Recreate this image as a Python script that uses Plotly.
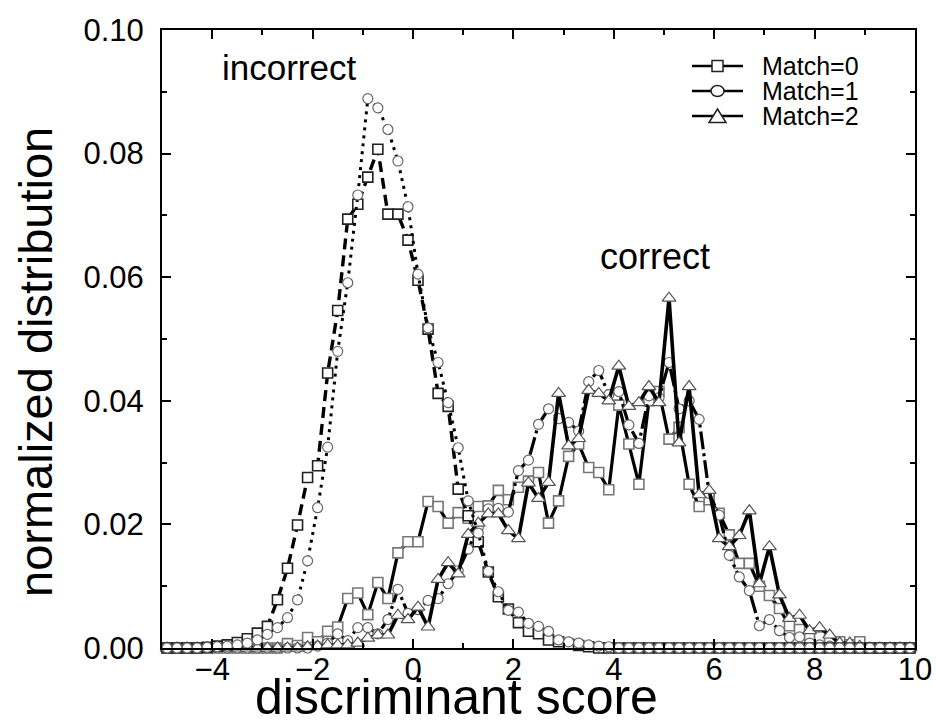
import plotly.graph_objects as go

# bin centres of the discriminant score
score = [-4.9, -4.7, -4.5, -4.3, -4.1, -3.9, -3.7, -3.5, -3.3, -3.1,
         -2.9, -2.7, -2.5, -2.3, -2.1, -1.9, -1.7, -1.5, -1.3, -1.1,
         -0.9, -0.7, -0.5, -0.3, -0.1, 0.1, 0.3, 0.5, 0.7, 0.9,
         1.1, 1.3, 1.5, 1.7, 1.9, 2.1, 2.3, 2.5, 2.7, 2.9,
         3.1, 3.3, 3.5, 3.7, 3.9, 4.1, 4.3, 4.5, 4.7, 4.9,
         5.1, 5.3, 5.5, 5.7, 5.9, 6.1, 6.3, 6.5, 6.7, 6.9,
         7.1, 7.3, 7.5, 7.7, 7.9, 8.1, 8.3, 8.5, 8.7, 8.9,
         9.1, 9.3, 9.5, 9.7, 9.9]

incorrect_m0 = [0, 0, 0, 0, 0.0001, 0.0003, 0.0005, 0.0009, 0.0015, 0.0024,
                0.0035, 0.0078, 0.0129, 0.0199, 0.0276, 0.0295, 0.0445, 0.0546, 0.0694, 0.0718,
                0.0762, 0.0807, 0.0702, 0.0702, 0.0660, 0.0595, 0.0516, 0.0412, 0.0391, 0.0257,
                0.0214, 0.0172, 0.0123, 0.0083, 0.0063, 0.0041, 0.0027, 0.0023, 0.0013, 0.0010,
                0.0006, 0.0004, 0.0002, 0, 0, 0, 0, 0, 0, 0,
                0, 0, 0, 0, 0, 0, 0, 0, 0, 0,
                0, 0, 0, 0, 0, 0, 0, 0, 0, 0,
                0, 0, 0, 0, 0]

incorrect_m1 = [0, 0, 0, 0, 0.0001, 0.0002, 0.0003, 0.0005, 0.0008, 0.0013,
                0.0022, 0.0033, 0.0049, 0.0078, 0.0141, 0.0227, 0.0325, 0.0480, 0.0591, 0.0733,
                0.0889, 0.0874, 0.0839, 0.0788, 0.0714, 0.0605, 0.0518, 0.0462, 0.0397, 0.0324,
                0.0238, 0.0186, 0.0124, 0.0091, 0.0061, 0.0058, 0.0040, 0.0035, 0.0027, 0.0013,
                0.0010, 0.0008, 0.0005, 0.0003, 0.0002, 0, 0, 0, 0, 0,
                0, 0, 0, 0, 0, 0, 0, 0, 0, 0,
                0, 0, 0, 0, 0, 0, 0, 0, 0, 0,
                0, 0, 0, 0, 0]

correct_m0 = [0, 0, 0, 0, 0, 0, 0, 0, 0, 0,
              0, 0, 0.0007, 0.0004, 0.0017, 0.0010, 0.0027, 0.0034, 0.0080, 0.0089,
              0.0054, 0.0106, 0.0080, 0.0154, 0.0172, 0.0172, 0.0237, 0.0229, 0.0202, 0.0219,
              0.0210, 0.0229, 0.0230, 0.0255, 0.0240, 0.0260, 0.0270, 0.0284, 0.0202, 0.0238,
              0.0310, 0.0330, 0.0292, 0.0284, 0.0256, 0.0393, 0.0330, 0.0265, 0.0400, 0.0415,
              0.0338, 0.0357, 0.0265, 0.0229, 0.0240, 0.0218, 0.0183, 0.0137, 0.0137, 0.0100,
              0.0085, 0.0064, 0.0036, 0.0030, 0.0019, 0.0018, 0.0009, 0.0010, 0.0005, 0.0010,
              0, 0, 0, 0, 0]

correct_m1 = [0, 0, 0, 0, 0, 0, 0, 0, 0, 0,
              0, 0, 0, 0, 0, 0.0003, 0.0008, 0.0023, 0.0012, 0.0033,
              0.0033, 0.0023, 0.0046, 0.0095, 0.0056, 0.0062, 0.0077, 0.0080, 0.0104, 0.0125,
              0.0160, 0.0195, 0.0225, 0.0226, 0.0220, 0.0287, 0.0304, 0.0362, 0.0387, 0.0371,
              0.0365, 0.0351, 0.0431, 0.0449, 0.0410, 0.0415, 0.0361, 0.0331, 0.0408, 0.0405,
              0.0462, 0.0387, 0.0400, 0.0370, 0.0250, 0.0215, 0.0150, 0.0115, 0.0093, 0.0036,
              0.0046, 0.0028, 0.0017, 0.0018, 0.0008, 0.0005, 0.0003, 0, 0, 0,
              0, 0, 0, 0, 0]

correct_m2 = [0, 0, 0, 0, 0, 0, 0, 0, 0, 0,
              0, 0, 0, 0, 0.0002, 0.0003, 0.0005, 0.0005, 0.0005, 0.0008,
              0.0016, 0.0021, 0.0021, 0.0053, 0.0046, 0.0066, 0.0034, 0.0111, 0.0138, 0.0120,
              0.0184, 0.0202, 0.0217, 0.0217, 0.0190, 0.0177, 0.0267, 0.0242, 0.0268, 0.0412,
              0.0327, 0.0339, 0.0417, 0.0412, 0.0400, 0.0456, 0.0391, 0.0397, 0.0423, 0.0397,
              0.0566, 0.0332, 0.0423, 0.0248, 0.0255, 0.0177, 0.0164, 0.0182, 0.0222, 0.0104,
              0.0164, 0.0086, 0.0048, 0.0053, 0.0028, 0.0033, 0.0021, 0.0008, 0.0008, 0.0003,
              0, 0, 0, 0, 0]

legend_names = ["Match=0", "Match=1", "Match=2"]
FONT = "Liberation Sans, Arial, sans-serif"

# plot area in pixels (for placing decoration in paper coordinates)
L, R, T, B, W, H = 162, 21, 30, 79, 936, 727
PW, PH = W - L - R, H - T - B
def px(xp):
    return (xp - L) / PW
def py(yp):
    return (H - B - yp) / PH

circ = dict(symbol="circle", size=10, color="white", line=dict(color="#666666", width=1.2))
sq_gray = dict(symbol="square", size=10, color="white", line=dict(color="#777777", width=1.6))
sq_dark = dict(symbol="square", size=10, color="white", line=dict(color="#222222", width=1.6))
tri = dict(symbol="triangle-up", size=12, color="white", line=dict(color="#555555", width=1.2))

fig = go.Figure()

def add(name, y, marker, dash, width):
    fig.add_trace(go.Scatter(
        x=score, y=y, mode="lines+markers", name=name, showlegend=False, cliponaxis=False,
        line=dict(color="black", width=width, dash=dash), marker=marker))

add("correct Match=0", correct_m0, sq_gray, "solid", 3.2)
add("correct Match=1", correct_m1, circ, "18px,4px,3px,4px", 3.2)
add("correct Match=2", correct_m2, tri, "solid", 3.6)
add("incorrect Match=0", incorrect_m0, sq_dark, "11px,6px", 3.4)
add("incorrect Match=1", incorrect_m1, circ, "3px,5px", 3.0)

# hand-drawn legend (row spacing tighter than Plotly's legend allows)
rows = [66, 91, 116]
shapes = []
annots = []
for name, yr, kind in zip(legend_names, rows, ["square", "circle", "triangle"]):
    shapes.append(dict(type="line", xref="paper", yref="paper", x0=px(692), x1=px(743),
                       y0=py(yr), y1=py(yr), line=dict(color="black", width=2.4)))
    if kind == "square":
        shapes.append(dict(type="rect", xref="paper", yref="paper", x0=px(712), x1=px(723),
                           y0=py(yr + 5.5), y1=py(yr - 5.5), fillcolor="white",
                           line=dict(color="#222", width=1.5)))
    elif kind == "circle":
        shapes.append(dict(type="circle", xref="paper", yref="paper", x0=px(711), x1=px(724),
                           y0=py(yr + 5.5), y1=py(yr - 5.5), fillcolor="white",
                           line=dict(color="#222", width=1.5)))
    else:
        x0, x1, xm = px(709), px(726), px(717.5)
        yb, yt = py(yr + 6.5), py(yr - 7)
        shapes.append(dict(type="path", xref="paper", yref="paper",
                           path=f"M {x0} {yb} L {x1} {yb} L {xm} {yt} Z", fillcolor="white",
                           line=dict(color="#222", width=1.5)))
    annots.append(dict(x=px(760), y=py(yr), xref="paper", yref="paper", text=name,
                       showarrow=False, xanchor="left", yanchor="middle",
                       font=dict(family=FONT, size=25, color="black")))

def label(xp, yp, text, size, angle=0, yanchor="middle"):
    annots.append(dict(x=px(xp), y=py(yp), xref="paper", yref="paper", text=text,
                       showarrow=False, xanchor="center", yanchor=yanchor, textangle=angle,
                       font=dict(family=FONT, size=size, color="black")))

label(289, 67, "incorrect", 35)
label(655, 256, "correct", 36)
label(456, 727, "discriminant score", 50, yanchor="bottom")
label(35, 362, "normalized distribution", 47, -90)

axis_common = dict(showline=True, linecolor="black", linewidth=2, mirror="ticks",
                   ticks="inside", ticklen=9, tickwidth=2, tickcolor="black",
                   showgrid=False, zeroline=False, automargin=False,
                   tickfont=dict(family=FONT, size=31, color="black"))

fig.update_xaxes(range=[-5, 10], tickmode="array", tickvals=[-4, -2, 0, 2, 4, 6, 8, 10],
                 minor=dict(ticks="inside", ticklen=5, tickwidth=1.5, dtick=1, tick0=0, tickcolor="black"),
                 ticklabelstandoff=-7, **axis_common)
fig.update_yaxes(range=[0, 0.1], tickmode="array", tickvals=[0, 0.02, 0.04, 0.06, 0.08, 0.10],
                 ticktext=["0.00", "0.02", "0.04", "0.06", "0.08", "0.10"],
                 minor=dict(ticks="inside", ticklen=5, tickwidth=1.5, dtick=0.01, tick0=0, tickcolor="black"),
                 ticklabelstandoff=10, **axis_common)

fig.update_layout(
    width=W, height=H,
    margin=dict(l=L, r=R, t=T, b=B),
    paper_bgcolor="white", plot_bgcolor="white",
    font=dict(family=FONT, color="black"),
    showlegend=False,
    shapes=shapes,
    annotations=annots,
)

fig.write_html("out.html")
